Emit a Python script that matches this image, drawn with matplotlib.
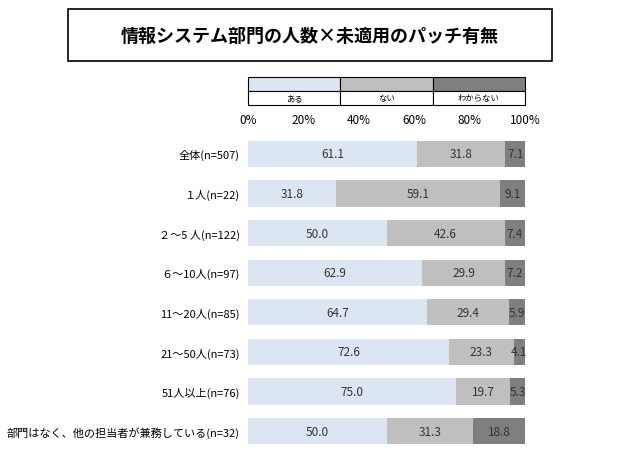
import matplotlib.pyplot as plt
from matplotlib.patches import Rectangle

plt.rcParams['font.family'] = 'Noto Sans CJK JP'

categories = ['全体(n=507)', '１人(n=22)', '２～5 人(n=122)', '６～10人(n=97)',
              '11～20人(n=85)', '21～50人(n=73)', '51人以上(n=76)',
              '部門はなく、他の担当者が兼務している(n=32)']
aru = [61.1, 31.8, 50.0, 62.9, 64.7, 72.6, 75.0, 50.0]
nai = [31.8, 59.1, 42.6, 29.9, 29.4, 23.3, 19.7, 31.3]
wakaranai = [7.1, 9.1, 7.4, 7.2, 5.9, 4.1, 5.3, 18.8]
series_names = ['ある', 'ない', 'わからない']
colors = ['#dce6f2', '#bfbfbf', '#7f7f7f']

W, H = 622, 452
fig = plt.figure(figsize=(W / 100, H / 100), dpi=100)

# title box
fig.patches.append(Rectangle((68 / W, 1 - 62 / H), 484 / W, 52 / H, transform=fig.transFigure,
                             fill=False, edgecolor='black', linewidth=1.2))
fig.text(310 / W, 1 - 36 / H, '情報システム部門の人数×未適用のパッチ有無', ha='center', va='center',
         fontsize=13, fontweight='bold')

# legend boxes
x0, x1 = 248, 525
seg = (x1 - x0) / 3
for i, (name, c) in enumerate(zip(series_names, colors)):
    xl = (x0 + i * seg) / W
    fig.patches.append(Rectangle((xl, 1 - 92 / H), seg / W, 14 / H, transform=fig.transFigure,
                                 facecolor=c, edgecolor='black', linewidth=0.8))
    fig.patches.append(Rectangle((xl, 1 - 106 / H), seg / W, 14 / H, transform=fig.transFigure,
                                 facecolor='white', edgecolor='black', linewidth=0.8))
    fig.text(xl + seg / 2 / W, 1 - 99 / H, name, ha='center', va='center', fontsize=6)

ax = fig.add_axes([x0 / W, 0, (x1 - x0) / W, 1 - 135 / H])
y = range(len(categories))
left = [0] * len(categories)
for vals, c in zip([aru, nai, wakaranai], colors):
    ax.barh(y, vals, left=left, color=c, height=0.66)
    for yi, (l, v) in enumerate(zip(left, vals)):
        ax.text(l + v / 2, yi, f'{v:.1f}', ha='center', va='center', fontsize=8.5, color='#333333')
    left = [l + v for l, v in zip(left, vals)]

ax.set_xlim(0, 100)
ax.set_ylim(len(categories) - 0.5, -0.5)
ax.set_yticks(list(y))
ax.set_yticklabels(categories, fontsize=8)
ax.xaxis.tick_top()
ax.set_xticks(range(0, 101, 20))
ax.set_xticklabels([f'{v}%' for v in range(0, 101, 20)], fontsize=8.5)
ax.tick_params(length=0, pad=6)
for s in ax.spines.values():
    s.set_visible(False)

fig.savefig('out.png', dpi=100)
